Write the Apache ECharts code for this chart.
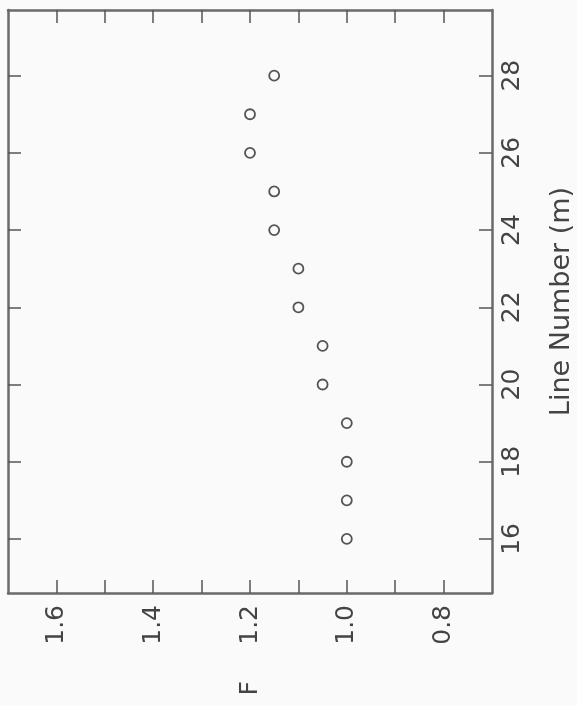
<!DOCTYPE html>
<html>
<head>
<meta charset="utf-8">
<script src="https://cdn.jsdelivr.net/npm/echarts@6.0.0/dist/echarts.min.js"></script>
<style>
  html, body { margin: 0; padding: 0; background: #fafafa; }
  #chart { width: 577px; height: 706px; }
</style>
</head>
<body>
<div id="chart"></div>
<script>
// line number (m) vs F, plot is drawn turned on its side
var lineNumbers = [16, 17, 18, 19, 20, 21, 22, 23, 24, 25, 26, 27, 28];
var fValues = [1.0, 1.0, 1.0, 1.0, 1.05, 1.05, 1.1, 1.1, 1.15, 1.15, 1.2, 1.2, 1.15];
var fTicks = [0.8, 0.9, 1.0, 1.1, 1.2, 1.3, 1.4, 1.5, 1.6];
var fLabels = [0.8, 1.0, 1.2, 1.4, 1.6];
var lineTicks = [16, 18, 20, 22, 24, 26, 28];

var chartDom = document.getElementById('chart');
var myChart = echarts.init(chartDom);
var option;

var points = lineNumbers.map(function (m, i) { return [fValues[i], m]; });
var frame = { show: true, lineStyle: { color: '#6a6a6a', width: 2.5 } };
var tick = { color: '#555', width: 1.5 };
var font = 'DejaVu Sans';

option = {
  backgroundColor: '#fafafa',
  animation: false,
  grid: { left: 8, right: 85, top: 10, bottom: 113, outerBoundsMode: 'none', containLabel: false },
  xAxis: [
    {
      type: 'value', min: 0.7, max: 1.7, inverse: true, position: 'bottom',
      splitLine: { show: false },
      axisLine: frame,
      axisTick: { inside: true, length: 13, customValues: fTicks, lineStyle: tick },
      axisLabel: {
        rotate: 90, margin: 12, customValues: fLabels,
        fontFamily: font, fontSize: 25, color: '#444',
        formatter: function (v) { return v.toFixed(1); }
      },
      name: 'F', nameLocation: 'middle', nameRotate: 90, nameGap: 88,
      nameTextStyle: { fontFamily: font, fontSize: 25, color: '#444' }
    },
    {
      type: 'value', min: 0.7, max: 1.7, inverse: true, position: 'top',
      splitLine: { show: false },
      axisLine: frame,
      axisTick: { inside: true, length: 13, customValues: fTicks, lineStyle: tick },
      axisLabel: { show: false }
    }
  ],
  yAxis: [
    {
      type: 'value', min: 14.6, max: 29.7, position: 'right',
      splitLine: { show: false },
      axisLine: frame,
      axisTick: { inside: true, length: 13, customValues: lineTicks, lineStyle: tick },
      axisLabel: {
        rotate: 90, margin: 8, customValues: lineTicks,
        fontFamily: font, fontSize: 25, color: '#444'
      },
      name: 'Line Number (m)', nameLocation: 'middle', nameRotate: 90, nameGap: 56,
      nameTextStyle: { fontFamily: font, fontSize: 27, color: '#444' }
    },
    {
      type: 'value', min: 14.6, max: 29.7, position: 'left',
      splitLine: { show: false },
      axisLine: frame,
      axisTick: { inside: true, length: 13, customValues: lineTicks, lineStyle: tick },
      axisLabel: { show: false }
    }
  ],
  series: [{
    type: 'scatter',
    xAxisIndex: 0, yAxisIndex: 0,
    data: points,
    symbol: 'circle',
    symbolSize: 10,
    itemStyle: { color: '#fafafa', borderColor: '#2a2a2a', borderWidth: 1.8 }
  }]
};

option && myChart.setOption(option);
</script>
</body>
</html>
